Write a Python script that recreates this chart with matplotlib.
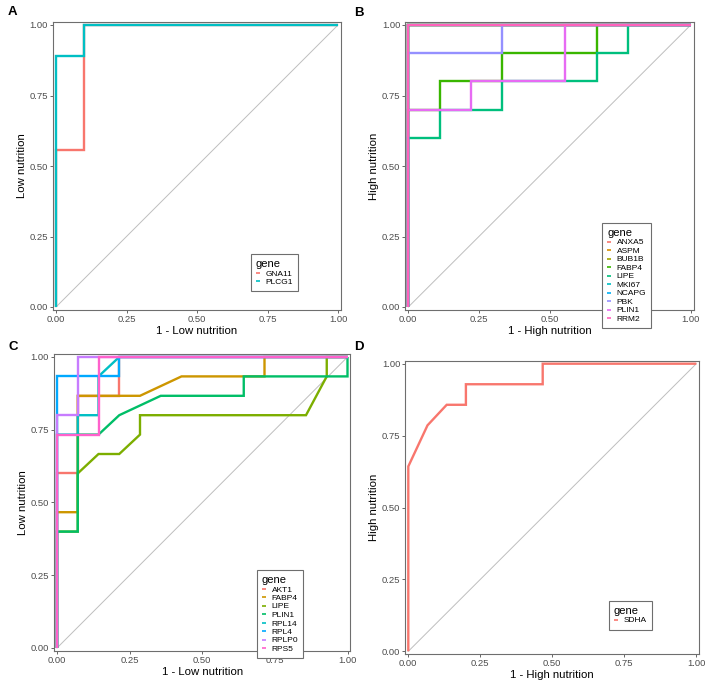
import matplotlib
matplotlib.use("Agg")
import matplotlib.pyplot as plt

plt.rcParams['font.family'] = ['Liberation Sans', 'DejaVu Sans']

# ---- data (x = 1 - specificity, y = sensitivity) ----
# Panel A
genes_a = ["GNA11", "PLCG1"]
colors_a = ["#F8766D", "#00BFC4"]
x_a = [[0, 0, 0.1, 0.1, 1],
       [0, 0, 0.1, 0.1, 1]]
y_a = [[0, 5/9, 5/9, 1, 1],
       [0, 8/9, 8/9, 1, 1]]

# Panel B
genes_b = ["ANXA5", "ASPM", "BUB1B", "FABP4", "LIPE", "MKI67", "NCAPG", "PBK", "PLIN1", "RRM2"]
colors_b = ["#F8766D", "#D89000", "#A3A500", "#39B600", "#00BF7D",
            "#00BFC4", "#00B0F6", "#9590FF", "#E76BF3", "#FF62BC"]
x_b = [[0, 0, 1], [0, 0, 1], [0, 0, 1],
       [0, 0, 1/9, 1/9, 3/9, 3/9, 6/9, 6/9, 1],
       [0, 0, 1/9, 1/9, 3/9, 3/9, 6/9, 6/9, 7/9, 7/9, 1],
       [0, 0, 1], [0, 0, 1],
       [0, 0, 3/9, 3/9, 1],
       [0, 0, 2/9, 2/9, 5/9, 5/9, 1],
       [0, 0, 1]]
y_b = [[0, 1, 1], [0, 1, 1], [0, 1, 1],
       [0, 0.7, 0.7, 0.8, 0.8, 0.9, 0.9, 1, 1],
       [0, 0.6, 0.6, 0.7, 0.7, 0.8, 0.8, 0.9, 0.9, 1, 1],
       [0, 1, 1], [0, 1, 1],
       [0, 0.9, 0.9, 1, 1],
       [0, 0.7, 0.7, 0.8, 0.8, 1, 1],
       [0, 1, 1]]

# Panel C
genes_c = ["AKT1", "FABP4", "LIPE", "PLIN1", "RPL14", "RPL4", "RPLP0", "RPS5"]
colors_c = ["#F8766D", "#CD9600", "#7CAE00", "#00BE67",
            "#00BFC4", "#00A9FF", "#C77CFF", "#FF61CC"]
x_c = [[0, 0, 1/14, 1/14, 3/14, 3/14, 3/14, 1],
       [0, 0, 1/14, 1/14, 4/14, 6/14, 10/14, 10/14, 1],
       [0, 0, 1/14, 1/14, 2/14, 3/14, 4/14, 4/14, 12/14, 13/14, 13/14, 1],
       [0, 0, 1/14, 1/14, 2/14, 3/14, 5/14, 9/14, 9/14, 1, 1],
       [0, 0, 1/14, 1/14, 2/14, 2/14, 3/14, 1],
       [0, 0, 3/14, 3/14, 1],
       [0, 0, 1/14, 1/14, 1],
       [0, 0, 2/14, 2/14, 1]]
y_c = [[0, 9/15, 9/15, 13/15, 13/15, 14/15, 1, 1],
       [0, 7/15, 7/15, 13/15, 13/15, 14/15, 14/15, 1, 1],
       [0, 6/15, 6/15, 9/15, 10/15, 10/15, 11/15, 12/15, 12/15, 14/15, 1, 1],
       [0, 6/15, 6/15, 11/15, 11/15, 12/15, 13/15, 13/15, 14/15, 14/15, 1],
       [0, 11/15, 11/15, 12/15, 12/15, 14/15, 1, 1],
       [0, 14/15, 14/15, 1, 1],
       [0, 12/15, 12/15, 1, 1],
       [0, 11/15, 11/15, 1, 1]]

# Panel D
genes_d = ["SDHA"]
colors_d = ["#F8766D"]
x_d = [[0, 0, 1/15, 2/15, 3/15, 3/15, 7/15, 7/15, 1]]
y_d = [[0, 9/14, 11/14, 12/14, 12/14, 13/14, 13/14, 1, 1]]

ticks = [0, 0.25, 0.5, 0.75, 1.0]
tick_labels = ["0.00", "0.25", "0.50", "0.75", "1.00"]

W, H = 708, 684
fig = plt.figure(figsize=(W / 100, H / 100), dpi=100)


def px_axes(x0, x1, y1, y0):
    # data 0 / 1 positions in pixels -> axes rect with 1% expansion
    sx = x1 - x0
    sy = y0 - y1
    left = x0 - 0.01 * sx
    bottom = y0 + 0.01 * sy
    return fig.add_axes([left / W, 1 - bottom / H, 1.02 * sx / W, 1.02 * sy / H])


def roc_panel(ax, genes, colors, xs, ys, xlabel, ylabel, leg_xy, letter, letter_xy):
    ax.plot([0, 1], [0, 1], color="#BEBEBE", lw=0.7, zorder=1)
    for g, c, xx, yy in zip(genes, colors, xs, ys):
        ax.plot(xx, yy, color=c, lw=1.7, label=g, solid_joinstyle="miter",
                solid_capstyle="butt", zorder=2)
    ax.set_xlim(-0.01, 1.01)
    ax.set_ylim(-0.01, 1.01)
    ax.set_xticks(ticks)
    ax.set_xticklabels(tick_labels)
    ax.set_yticks(ticks)
    ax.set_yticklabels(tick_labels)
    ax.tick_params(labelsize=6.8, colors="#4D4D4D", length=2.2, width=0.6, pad=1.5)
    for s in ax.spines.values():
        s.set_color("#6E6E6E")
        s.set_linewidth(0.8)
    ax.set_xlabel(xlabel, fontsize=8.2, labelpad=1.5)
    ax.set_ylabel(ylabel, fontsize=8.2, labelpad=2)
    leg = ax.legend(loc="upper left", bbox_to_anchor=(leg_xy[0] / W, 1 - leg_xy[1] / H),
                    bbox_transform=fig.transFigure, title="gene", fontsize=6.0,
                    title_fontsize=8, frameon=True, fancybox=False, framealpha=1,
                    facecolor="white", handlelength=0.45, handletextpad=0.7,
                    labelspacing=0.08, borderpad=0.6, alignment="left",
                    borderaxespad=0)
    leg.get_frame().set_edgecolor("#6E6E6E")
    leg.get_frame().set_linewidth(0.8)
    leg.set_zorder(10)
    for h in leg.get_lines():
        h.set_linewidth(1.2)
    fig.text(letter_xy[0] / W, 1 - letter_xy[1] / H, letter, fontsize=9.5,
             fontweight="bold", ha="center", va="center")


ax_a = px_axes(56, 338, 25, 307)
roc_panel(ax_a, genes_a, colors_a, x_a, y_a, "1 - Low nutrition", "Low nutrition",
          (251, 254), "A", (12, 12))

ax_b = px_axes(408.3, 690.7, 25, 307)
roc_panel(ax_b, genes_b, colors_b, x_b, y_b, "1 - High nutrition", "High nutrition",
          (602, 223), "B", (359, 13))

ax_c = px_axes(57, 347.5, 357, 648)
roc_panel(ax_c, genes_c, colors_c, x_c, y_c, "1 - Low nutrition", "Low nutrition",
          (257, 570), "C", (13, 347))

ax_d = px_axes(408.3, 696.3, 363.7, 651.3)
roc_panel(ax_d, genes_d, colors_d, x_d, y_d, "1 - High nutrition", "High nutrition",
          (609, 601), "D", (359, 347))

fig.savefig("out.png", dpi=100)
